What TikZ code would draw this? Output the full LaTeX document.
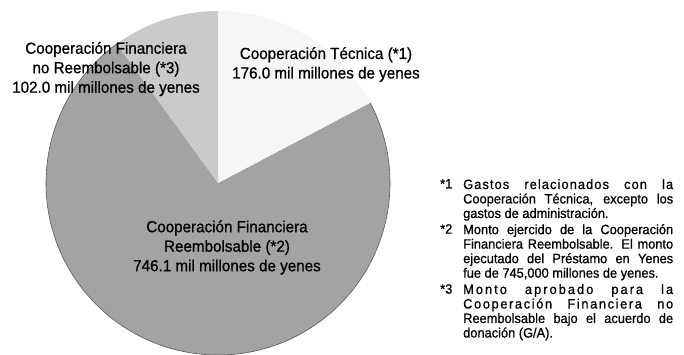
\documentclass[tikz,border=0pt]{standalone}
\usepackage{fontspec}
\setmainfont{Liberation Sans}[FakeStretch=0.95, FakeBold=0.8]
\definecolor{reemb}{HTML}{A3A3A3}
\definecolor{noreemb}{HTML}{CACACA}
\definecolor{tecn}{HTML}{F6F6F6}
\newcommand\lblfont{\fontsize{16}{19.5}\selectfont}
\newcommand\fnfont{\fontsize{13.5}{14.5}\selectfont}
\newcommand\spreadtext[2]{{\addfontfeature{LetterSpace=#1}#2}}
\tikzset{
  slicelbl/.style={align=center, inner sep=0pt, font=\lblfont},
  fnum/.style={anchor=north west, inner sep=0pt, font=\fnfont},
  ftext/.style={anchor=north west, inner sep=0pt, text width=210pt, align=justify, font=\fnfont},
}
\begin{document}
\begin{tikzpicture}[x=1pt,y=1pt]
\useasboundingbox (0,0) rectangle (684,-355);
\coordinate (c) at (218,-183);
\def\R{172}
\fill[reemb] (c) -- ++(126:\R) arc[start angle=126,end angle=387.8,radius=\R] -- cycle;
\fill[tecn] (c) -- ++(27.8:\R) arc[start angle=27.8,end angle=90,radius=\R] -- cycle;
\fill[noreemb] (c) -- ++(90:\R) arc[start angle=90,end angle=126,radius=\R] -- cycle;
\draw[gray!70!black, line width=0.6pt] ([shift={(126:\R)}]c) arc[start angle=126,end angle=387.8,radius=\R];

\node[slicelbl] (tec) at (326,-64.5) {Cooperación Técnica (*1)\\176.0 mil millones de yenes};
\node[slicelbl] (nre) at (106,-69) {Cooperación Financiera\\no Reembolsable (*3)\\102.0 mil millones de yenes};
\node[slicelbl] (ree) at (227,-247.5) {Cooperación Financiera\\Reembolsable (*2)\\746.1 mil millones de yenes};

\node[fnum] (m1) at (440,-179) {*1};
\node[ftext] (f1) at (463,-179) {\spreadtext{8}{Gastos relacionados con la}\linebreak Cooperación Técnica, excepto los\linebreak gastos de administración.};
\node[fnum] (m2) at (440,-224) {*2};
\node[ftext] (f2) at (463,-224) {Monto ejercido de la Cooperación\linebreak Financiera Reembolsable. El monto\linebreak ejecutado del Préstamo en Yenes\linebreak fue de 745,000 millones de yenes.};
\node[fnum] (m3) at (440,-284) {*3};
\node[ftext] (f3) at (463,-284) {\spreadtext{15}{Monto aprobado para la}\linebreak \spreadtext{12}{Cooperación Financiera no}\linebreak Reembolsable bajo el acuerdo de\linebreak donación (G/A).};
\end{tikzpicture}
\end{document}
